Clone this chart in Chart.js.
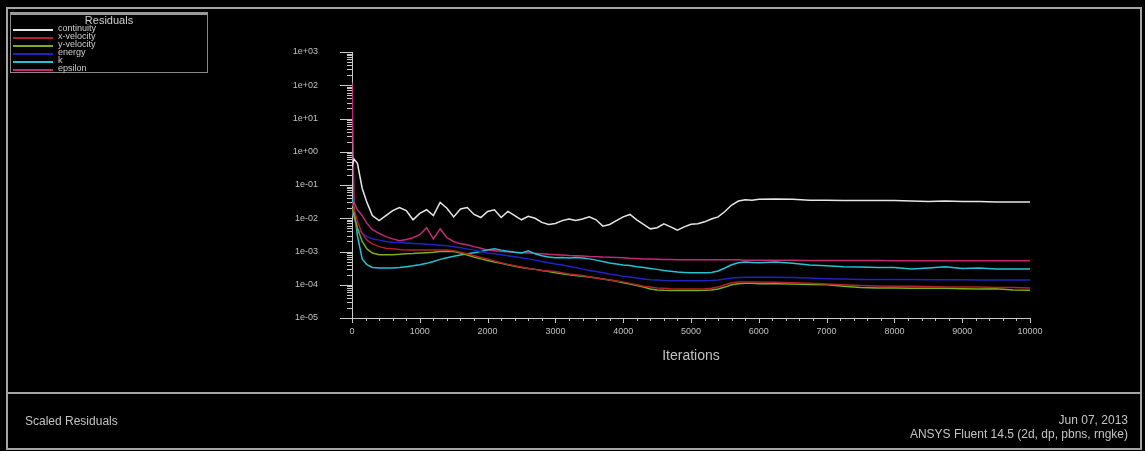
<!DOCTYPE html>
<html>
<head>
<meta charset="utf-8">
<title>Scaled Residuals</title>
<script src="https://cdn.jsdelivr.net/npm/chart.js@4.4.0/dist/chart.umd.min.js"></script>
<style>
  html, body { margin: 0; padding: 0; background: #000; width: 1145px; height: 451px; overflow: hidden; }
  #wrap { position: relative; width: 1145px; height: 451px; font-family: 'Liberation Sans', Arial, sans-serif; color: #c4c4c4; }
  #plot { position: absolute; left: 0; top: 0; }
  .box { position: absolute; box-sizing: border-box; border: 2px solid #a4a4a4; pointer-events: none; }
  #outer { left: 6px; top: 7px; width: 1136px; height: 443px; }
  #footer { left: 6px; top: 392px; width: 1136px; height: 58px; }
  #legend { position: absolute; left: 10px; top: 12px; width: 198px; height: 61px; box-sizing: border-box;
            border: 1px solid #8a8a8a; border-top: 3px solid #9a9a9a; }
  #legend .ttl { position: absolute; left: 0; right: 0; top: 0px; text-align: center; font-size: 11px; line-height: 11px; color: #cfcfcf; }
  #legend .row { position: absolute; left: 2px; height: 8px; }
  #legend .sw { position: absolute; left: 0; top: 4px; width: 40px; height: 2px; }
  #legend .lb { position: absolute; left: 45px; top: -1px; font-size: 9px; line-height: 9px; white-space: nowrap; color: #cfcfcf; }
  .txt { position: absolute; white-space: nowrap; font-size: 12px; line-height: 14px; color: #c4c4c4; }
</style>
</head>
<body>
<div id="wrap">
  <canvas id="plot" width="1145" height="451"></canvas>
  <div class="box" id="outer"></div>
  <div class="box" id="footer"></div>
  <div id="legend"><div class="ttl">Residuals</div></div>
  <div class="txt" style="left:25px; top:414px;">Scaled Residuals</div>
  <div class="txt" style="right:17px; top:413px; text-align:right;">Jun 07, 2013</div>
  <div class="txt" style="right:17px; top:427px; text-align:right;">ANSYS Fluent 14.5 (2d, dp, pbns, rngke)</div>
</div>
<script>
// Iteration numbers at which residuals are sampled
const iterations = [
  0, 30, 80, 150, 220, 300, 400,
  500, 600, 700, 800, 900, 1000,
  1100, 1200, 1300, 1400, 1500, 1600, 1700, 1800, 1900, 2000,
  2100, 2200, 2300, 2400, 2500, 2600, 2700, 2800, 2900, 3000,
  3100, 3200, 3300, 3400, 3500, 3600, 3700, 3800, 3900, 4000,
  4100, 4200, 4300, 4400, 4500, 4600, 4700, 4800, 4900, 5000,
  5100, 5200, 5300, 5400, 5500, 5600, 5700, 5800, 5900, 6000,
  6250, 6500, 6750, 7000, 7250, 7500, 7750, 8000, 8250, 8500, 8750, 9000, 9250, 9500, 9750, 10000
];

const continuity = [
  0.35, 0.6, 0.45, 0.08, 0.03, 0.012, 0.0085,
  0.012, 0.017, 0.021, 0.017, 0.009, 0.014,
  0.018, 0.012, 0.03, 0.02, 0.011, 0.019, 0.021, 0.013, 0.0105, 0.016,
  0.018, 0.0105, 0.016, 0.012, 0.009, 0.0115, 0.01, 0.0075, 0.0065, 0.007,
  0.0085, 0.0095, 0.0085, 0.0095, 0.011, 0.009, 0.0058, 0.0065, 0.0085, 0.011,
  0.013, 0.009, 0.0065, 0.0048, 0.0052, 0.0068, 0.0055, 0.0044, 0.0055, 0.0066,
  0.0068, 0.0078, 0.0095, 0.011, 0.016, 0.025, 0.033, 0.036, 0.035, 0.037,
  0.038, 0.037, 0.035, 0.035, 0.034, 0.034, 0.034, 0.034, 0.033, 0.032, 0.033, 0.032, 0.032, 0.031, 0.031, 0.031
];

const xVelocity = [
  0.03, 0.02, 0.008, 3.5e-3, 2.2e-3, 1.7e-3, 1.4e-3,
  1.25e-3, 1.2e-3, 1.15e-3, 1.1e-3, 1.1e-3, 1.1e-3,
  1.1e-3, 1.1e-3, 1.1e-3, 1.1e-3, 1.05e-3, 9.5e-4, 8.5e-4, 7.5e-4, 6.6e-4, 6e-4,
  5.2e-4, 4.6e-4, 4.1e-4, 3.7e-4, 3.4e-4, 3.1e-4, 2.9e-4, 2.7e-4, 2.6e-4, 2.5e-4,
  2.3e-4, 2.1e-4, 2e-4, 1.9e-4, 1.75e-4, 1.6e-4, 1.5e-4, 1.4e-4, 1.3e-4, 1.22e-4,
  1.1e-4, 1e-4, 9e-5, 8.5e-5, 8e-5, 7.8e-5, 7.6e-5, 7.5e-5, 7.5e-5, 7.5e-5,
  7.5e-5, 7.6e-5, 7.8e-5, 8.5e-5, 1e-4, 1.15e-4, 1.2e-4, 1.22e-4, 1.2e-4, 1.2e-4,
  1.18e-4, 1.15e-4, 1.1e-4, 1.05e-4, 1e-4, 9.5e-5, 9.2e-5, 9e-5, 9e-5, 8.8e-5, 8.6e-5, 8.5e-5, 8.5e-5, 8.3e-5, 8.2e-5, 8e-5
];

const yVelocity = [
  0.02, 0.012, 5e-3, 2e-3, 1.2e-3, 9e-4, 8e-4,
  8e-4, 8e-4, 8.2e-4, 8.5e-4, 8.7e-4, 9e-4,
  9.2e-4, 9.5e-4, 1e-3, 1.02e-3, 1e-3, 9e-4, 7.8e-4, 6.8e-4, 6e-4, 5.4e-4,
  4.8e-4, 4.4e-4, 4e-4, 3.6e-4, 3.3e-4, 3.1e-4, 2.9e-4, 2.7e-4, 2.5e-4, 2.3e-4,
  2.15e-4, 2e-4, 1.9e-4, 1.8e-4, 1.7e-4, 1.6e-4, 1.5e-4, 1.4e-4, 1.28e-4, 1.15e-4,
  1.05e-4, 9.5e-5, 8.5e-5, 7.5e-5, 7e-5, 6.8e-5, 6.7e-5, 6.7e-5, 6.7e-5, 6.7e-5,
  6.7e-5, 6.8e-5, 7e-5, 7.5e-5, 8.5e-5, 1e-4, 1.08e-4, 1.1e-4, 1.1e-4, 1.08e-4,
  1.08e-4, 1.05e-4, 1.02e-4, 1e-4, 9e-5, 8.2e-5, 8e-5, 8e-5, 7.8e-5, 7.8e-5, 7.8e-5, 7.6e-5, 7.5e-5, 7.6e-5, 7e-5, 6.8e-5
];

const energy = [
  0.02, 0.01, 5e-3, 3.5e-3, 2.8e-3, 2.4e-3, 2.2e-3,
  2e-3, 1.9e-3, 1.85e-3, 1.8e-3, 1.75e-3, 1.7e-3,
  1.65e-3, 1.6e-3, 1.55e-3, 1.5e-3, 1.4e-3, 1.3e-3, 1.2e-3, 1.1e-3, 1e-3, 9e-4,
  8.5e-4, 8e-4, 7.5e-4, 7e-4, 6.5e-4, 6e-4, 5.5e-4, 5e-4, 4.6e-4, 4.2e-4,
  3.9e-4, 3.6e-4, 3.3e-4, 3e-4, 2.7e-4, 2.5e-4, 2.3e-4, 2.1e-4, 1.95e-4, 1.8e-4,
  1.7e-4, 1.6e-4, 1.5e-4, 1.42e-4, 1.38e-4, 1.35e-4, 1.33e-4, 1.32e-4, 1.32e-4, 1.32e-4,
  1.32e-4, 1.33e-4, 1.35e-4, 1.4e-4, 1.5e-4, 1.6e-4, 1.65e-4, 1.68e-4, 1.68e-4, 1.68e-4,
  1.68e-4, 1.65e-4, 1.6e-4, 1.52e-4, 1.48e-4, 1.45e-4, 1.45e-4, 1.45e-4, 1.43e-4, 1.42e-4, 1.42e-4, 1.42e-4, 1.4e-4, 1.4e-4, 1.4e-4, 1.4e-4
];

const kResidual = [
  0.04, 0.02, 3e-3, 6e-4, 4e-4, 3.3e-4, 3.2e-4,
  3.2e-4, 3.2e-4, 3.3e-4, 3.5e-4, 3.7e-4, 4e-4,
  4.4e-4, 5e-4, 5.8e-4, 6.5e-4, 7.2e-4, 7.8e-4, 8.5e-4, 9.2e-4, 1e-3, 1.12e-3,
  1.2e-3, 1.1e-3, 1.02e-3, 9.5e-4, 9e-4, 1.05e-3, 8.5e-4, 7.5e-4, 6.8e-4, 6.5e-4,
  6.6e-4, 6.4e-4, 6.6e-4, 6.4e-4, 6e-4, 5.5e-4, 5e-4, 4.5e-4, 4.2e-4, 3.9e-4,
  3.8e-4, 3.5e-4, 3.3e-4, 3.1e-4, 2.9e-4, 2.7e-4, 2.55e-4, 2.4e-4, 2.35e-4, 2.3e-4,
  2.3e-4, 2.3e-4, 2.35e-4, 2.6e-4, 3.2e-4, 4e-4, 4.6e-4, 4.8e-4, 4.7e-4, 4.6e-4,
  4.8e-4, 4.4e-4, 3.9e-4, 3.7e-4, 3.5e-4, 3.4e-4, 3.3e-4, 3.3e-4, 3e-4, 3.2e-4, 3.5e-4, 3.1e-4, 3.2e-4, 3e-4, 3e-4, 3e-4
];

const epsilon = [
  120, 0.03, 0.018, 0.012, 7e-3, 4.5e-3, 3.5e-3,
  2.8e-3, 2.4e-3, 2.1e-3, 2.3e-3, 2.6e-3, 3.2e-3,
  5.2e-3, 2.4e-3, 4.8e-3, 2.6e-3, 2e-3, 1.7e-3, 1.6e-3, 1.4e-3, 1.25e-3, 1.1e-3,
  1.05e-3, 1e-3, 9.8e-4, 9.5e-4, 9.2e-4, 9e-4, 8.8e-4, 8.5e-4, 8.2e-4, 8e-4,
  7.8e-4, 7.6e-4, 7.5e-4, 7.3e-4, 7.1e-4, 7e-4, 6.8e-4, 6.7e-4, 6.6e-4, 6.5e-4,
  6.3e-4, 6.2e-4, 6e-4, 5.9e-4, 5.8e-4, 5.7e-4, 5.7e-4, 5.6e-4, 5.6e-4, 5.6e-4,
  5.6e-4, 5.6e-4, 5.6e-4, 5.6e-4, 5.6e-4, 5.6e-4, 5.6e-4, 5.5e-4, 5.5e-4, 5.5e-4,
  5.5e-4, 5.5e-4, 5.4e-4, 5.4e-4, 5.4e-4, 5.4e-4, 5.4e-4, 5.3e-4, 5.3e-4, 5.3e-4, 5.3e-4, 5.3e-4, 5.3e-4, 5.3e-4, 5.3e-4, 5.3e-4
];

const seriesNames  = ['continuity', 'x-velocity', 'y-velocity', 'energy', 'k', 'epsilon'];
const seriesValues = [continuity, xVelocity, yVelocity, energy, kResidual, epsilon];
const seriesColors = ['#e6e6e6', '#b3202a', '#7aae1c', '#2222c4', '#22c4d4', '#c42a74'];

// Axis ticks: decades on the log axis, thousands on the iteration axis
const yDecades    = [1e-5, 1e-4, 1e-3, 1e-2, 1e-1, 1e0, 1e1, 1e2, 1e3];
const yTickLabels = ['1e-05', '1e-04', '1e-03', '1e-02', '1e-01', '1e+00', '1e+01', '1e+02', '1e+03'];
const xMajorTicks = [0, 1000, 2000, 3000, 4000, 5000, 6000, 7000, 8000, 9000, 10000];
const xTickLabels = ['0', '1000', '2000', '3000', '4000', '5000', '6000', '7000', '8000', '9000', '10000'];
const xMinorStep  = 200;

const axisColor = '#c8c8c8';
const labelColor = '#c0c0c0';

function decadeIndex(v) {
  const l = Math.log10(v);
  const r = Math.round(l);
  if (Math.abs(l - r) > 1e-9) return -1;
  return yDecades.findIndex(d => Math.abs(Math.log10(d) - r) < 1e-9);
}

// Draws the major/minor tick marks of both axes
const tickMarks = {
  id: 'tickMarks',
  afterDraw(chart) {
    const ctx = chart.ctx;
    const xs = chart.scales.x, ys = chart.scales.y;
    ctx.save();
    ctx.strokeStyle = axisColor;
    ctx.lineWidth = 1;
    ctx.beginPath();
    ys.ticks.forEach(t => {
      const p = Math.round(ys.getPixelForValue(t.value)) + 0.5;
      const len = decadeIndex(t.value) >= 0 ? 12 : 5;
      ctx.moveTo(ys.right - len, p);
      ctx.lineTo(ys.right, p);
    });
    xs.ticks.forEach(t => {
      const p = Math.round(xs.getPixelForValue(t.value)) + 0.5;
      const len = xMajorTicks.includes(t.value) ? 5 : 3;
      ctx.moveTo(p, xs.top);
      ctx.lineTo(p, xs.top + len);
    });
    ctx.stroke();
    ctx.restore();
  }
};

Chart.defaults.font.family = "'Liberation Sans Narrow', 'Liberation Sans', Arial, sans-serif";
Chart.defaults.color = labelColor;

const chart = new Chart(document.getElementById('plot'), {
  type: 'line',
  data: {
    datasets: seriesNames.map((name, i) => ({
      label: name,
      data: iterations.map((it, j) => ({ x: it, y: seriesValues[i][j] })),
      borderColor: seriesColors[i],
      backgroundColor: seriesColors[i],
      borderWidth: 1.5,
      pointRadius: 0,
      tension: 0,
      fill: false
    }))
  },
  options: {
    responsive: false,
    animation: false,
    devicePixelRatio: 1,
    layout: { padding: { left: 292, top: 52, right: 115, bottom: 83 } },
    plugins: { legend: { display: false }, tooltip: { enabled: false } },
    scales: {
      x: {
        type: 'linear',
        min: 0,
        max: 10000,
        afterFit(scale) { scale.height = 50; },
        afterBuildTicks(scale) {
          const t = [];
          for (let v = 0; v <= 10000; v += xMinorStep) t.push({ value: v });
          scale.ticks = t;
        },
        ticks: {
          autoSkip: false,
          maxRotation: 0,
          padding: 8,
          font: { size: 9 },
          color: labelColor,
          callback(v) {
            const i = xMajorTicks.indexOf(v);
            return i >= 0 ? xTickLabels[i] : '';
          }
        },
        grid: { display: false, drawTicks: false },
        border: { display: true, color: axisColor, width: 1 },
        title: {
          display: true,
          text: 'Iterations',
          color: labelColor,
          font: { size: 14 },
          padding: { top: 2, bottom: 3 }
        }
      },
      y: {
        type: 'logarithmic',
        min: 1e-5,
        max: 1e3,
        afterFit(scale) { scale.width = 60; },
        afterBuildTicks(scale) {
          const t = [];
          for (let d = 0; d < yDecades.length; d++) {
            for (let m = 1; m <= 9; m++) {
              if (d === yDecades.length - 1 && m > 1) break;
              t.push({ value: m * yDecades[d] });
            }
          }
          scale.ticks = t;
        },
        ticks: {
          autoSkip: false,
          padding: 34,
          font: { size: 9 },
          color: labelColor,
          callback(v) {
            const i = decadeIndex(v);
            return i >= 0 ? yTickLabels[i] : '';
          }
        },
        grid: { display: false, drawTicks: false },
        border: { display: true, color: axisColor, width: 1 }
      }
    }
  },
  plugins: [tickMarks]
});

// Legend box entries from the chart's datasets
const legend = document.getElementById('legend');
chart.data.datasets.forEach((ds, i) => {
  const row = document.createElement('div');
  row.className = 'row';
  row.style.top = (10 + i * 8) + 'px';
  const sw = document.createElement('div');
  sw.className = 'sw';
  sw.style.background = ds.borderColor;
  const lb = document.createElement('div');
  lb.className = 'lb';
  lb.textContent = ds.label;
  row.appendChild(sw);
  row.appendChild(lb);
  legend.appendChild(row);
});
</script>
</body>
</html>
